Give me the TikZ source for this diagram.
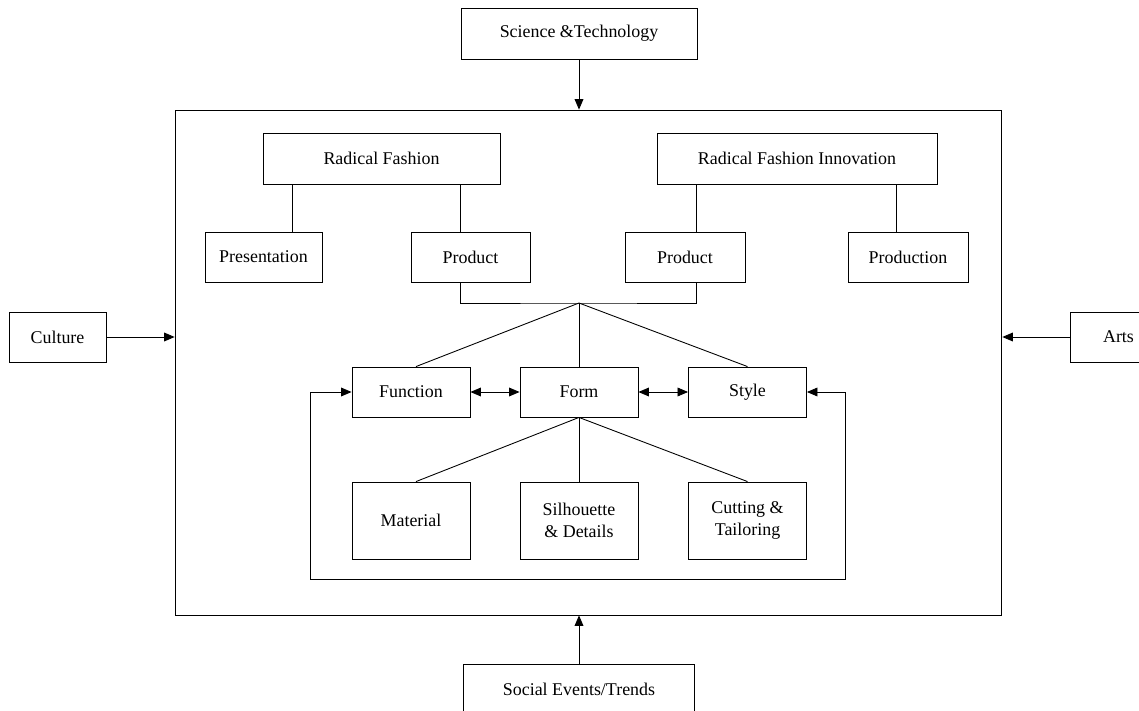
\documentclass[tikz,border=0pt]{standalone}
\usepackage{fontspec}
\setmainfont{Liberation Serif}
\usetikzlibrary{arrows.meta}

\begin{document}
\begin{tikzpicture}[
x=0.02cm, y=-0.02cm,
font=\fontsize{10.2}{12.5}\selectfont,
line width=0.5pt,
box/.style={draw, inner sep=2pt, align=center, minimum height=1cm},
cell/.style={box, minimum width=2.36cm},
tallcell/.style={box, minimum width=2.36cm, minimum height=1.54cm},
arrow/.style={-{Triangle[length=6pt,width=5pt]}},
biarrow/.style={{Triangle[length=6pt,width=5pt]}-{Triangle[length=6pt,width=5pt]}} ]

\path[use as bounding box, clip] (0,0) rectangle (1139,710);

% outer influences
\node[box, minimum width=4.72cm, minimum height=1.02cm] (sci) at (579,33.5) {Science \&Technology};

\node[box, minimum width=1.94cm] (culture) at (57.5,337) {Culture};

\node[box, minimum width=1.94cm] (arts) at (1118.5,337) {Arts};

\node[box, minimum width=4.62cm, minimum height=1.02cm] (social) at (579,689.5) {Social Events/Trends};

\node[draw, minimum width=16.54cm, minimum height=10.1cm] (frame) at (588.5,362.5) {};

% top level
\node[box, minimum width=4.74cm, minimum height=1.02cm] (rf) at (381.5,158.5) {Radical Fashion};

\node[box, minimum width=5.6cm, minimum height=1.02cm] (rfi) at (797,158.5) {Radical Fashion Innovation};

\node[box, minimum width=2.34cm] (pres) at (263.5,257) {Presentation};

\node[box, minimum width=2.38cm] (prodA) at (470.5,257) {Product};

\node[box, minimum width=2.4cm] (prodB) at (685,257) {Product};

\node[box, minimum width=2.4cm] (prodn) at (908,257) {Production};

\coordinate (hub) at (579,303);

% product level
\node[cell] (function) at (411,392) {Function};

\node[cell] (form) at (579,392) {Form};

\node[cell] (style) at (747.5,392) {Style};

\node[tallcell] (material) at (411,520.5) {Material};

\node[tallcell] (silh) at (579,520.5) {Silhouette\\ \& Details};

\node[tallcell] (cutting) at (747.5,520.5) {Cutting \&\\ Tailoring};

\coordinate (loopL) at (310,579);

\coordinate (loopR) at (845,579);

\draw[arrow] (sci) -- (sci |- frame.north);

\draw[arrow] (culture) -- (culture -| frame.west);

\draw[arrow] (arts) -- (arts -| frame.east);

\draw[arrow] (social) -- (social |- frame.south);

\draw ([xshift=0.6cm]rf.south west) -- ([xshift=0.6cm]rf.south west |- pres.north);

\draw ([xshift=-0.8cm]rf.south east) -- ([xshift=-0.8cm]rf.south east |- prodA.north);

\draw ([xshift=0.8cm]rfi.south west) -- ([xshift=0.8cm]rfi.south west |- prodB.north);

\draw ([xshift=-0.82cm]rfi.south east) -- ([xshift=-0.82cm]rfi.south east |- prodn.north);

\draw ([xshift=-0.8cm]rf.south east |- prodA.south) |- (hub) -| ([xshift=0.8cm]rfi.south west |- prodB.south);

\draw (hub) -- ([xshift=0.1cm]function.north);

\draw (hub) -- (form.north);

\draw (hub) -- (style.north);

\draw[biarrow] (function) -- (form);

\draw[biarrow] (form) -- (style);

\draw (form.south) -- ([xshift=0.1cm]material.north);

\draw (form.south) -- (silh.north);

\draw (form.south) -- (cutting.north);

\draw[biarrow] (function.west) -| (loopL) -- (loopR) |- (style.east);

\end{tikzpicture}
\end{document}
